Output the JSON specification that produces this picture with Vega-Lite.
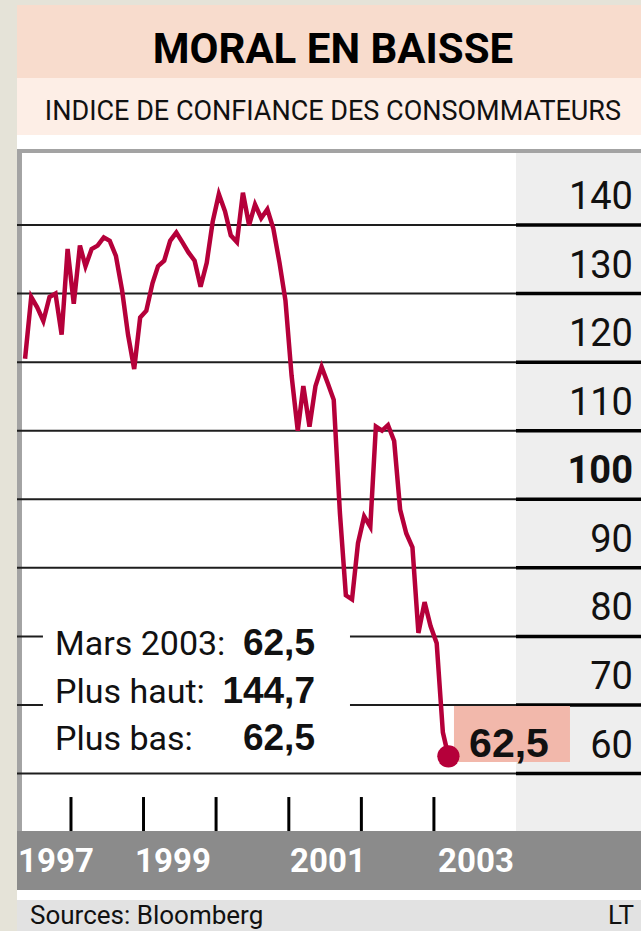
{
  "$schema": "https://vega.github.io/schema/vega-lite/v6.json",
  "width": 624,
  "height": 926,
  "padding": {"left": 17, "top": 5, "right": 0, "bottom": 0},
  "autosize": {"type": "none"},
  "background": "#e5e3d8",
  "config": {
    "view": {"stroke": null, "fill": "#ffffff"},
    "axis": {"disable": true},
    "text": {"font": "Roboto", "color": "#111111"}
  },
  "datasets": {
    "cci": [
      {"month": "1997-05-15", "index": 120.5},
      {"month": "1997-06-15", "index": 129.5},
      {"month": "1997-07-15", "index": 128},
      {"month": "1997-08-15", "index": 126},
      {"month": "1997-09-15", "index": 129.5},
      {"month": "1997-10-15", "index": 130},
      {"month": "1997-11-15", "index": 124},
      {"month": "1997-12-15", "index": 136.5},
      {"month": "1998-01-15", "index": 128.5},
      {"month": "1998-02-15", "index": 137},
      {"month": "1998-03-15", "index": 134},
      {"month": "1998-04-15", "index": 136.5},
      {"month": "1998-05-15", "index": 137},
      {"month": "1998-06-15", "index": 138.2},
      {"month": "1998-07-15", "index": 137.7},
      {"month": "1998-08-15", "index": 135.5},
      {"month": "1998-09-15", "index": 130.5},
      {"month": "1998-10-15", "index": 124},
      {"month": "1998-11-15", "index": 119},
      {"month": "1998-12-15", "index": 126.5},
      {"month": "1999-01-15", "index": 127.5},
      {"month": "1999-02-15", "index": 131.5},
      {"month": "1999-03-15", "index": 134},
      {"month": "1999-04-15", "index": 134.8},
      {"month": "1999-05-15", "index": 137.7},
      {"month": "1999-06-15", "index": 138.9},
      {"month": "1999-07-15", "index": 137.5},
      {"month": "1999-08-15", "index": 136},
      {"month": "1999-09-15", "index": 134.8},
      {"month": "1999-10-15", "index": 131},
      {"month": "1999-11-15", "index": 134.5},
      {"month": "1999-12-15", "index": 140.5},
      {"month": "2000-01-15", "index": 144.5},
      {"month": "2000-02-15", "index": 142},
      {"month": "2000-03-15", "index": 138.5},
      {"month": "2000-04-15", "index": 137.5},
      {"month": "2000-05-15", "index": 144.7},
      {"month": "2000-06-15", "index": 140},
      {"month": "2000-07-15", "index": 143},
      {"month": "2000-08-15", "index": 141},
      {"month": "2000-09-15", "index": 142.3},
      {"month": "2000-10-15", "index": 139.5},
      {"month": "2000-11-15", "index": 134.5},
      {"month": "2000-12-15", "index": 129},
      {"month": "2001-01-15", "index": 118},
      {"month": "2001-02-15", "index": 110},
      {"month": "2001-03-15", "index": 116.5},
      {"month": "2001-04-15", "index": 110.6},
      {"month": "2001-05-15", "index": 116.5},
      {"month": "2001-06-15", "index": 119.3},
      {"month": "2001-07-15", "index": 117},
      {"month": "2001-08-15", "index": 114.5},
      {"month": "2001-09-15", "index": 98},
      {"month": "2001-10-15", "index": 86},
      {"month": "2001-11-15", "index": 85.4},
      {"month": "2001-12-15", "index": 93.6},
      {"month": "2002-01-15", "index": 97.5},
      {"month": "2002-02-15", "index": 96},
      {"month": "2002-03-15", "index": 110.6},
      {"month": "2002-04-15", "index": 110},
      {"month": "2002-05-15", "index": 110.8},
      {"month": "2002-06-15", "index": 108.5},
      {"month": "2002-07-15", "index": 98.5},
      {"month": "2002-08-15", "index": 95},
      {"month": "2002-09-15", "index": 93},
      {"month": "2002-10-15", "index": 80.5},
      {"month": "2002-11-15", "index": 85},
      {"month": "2002-12-15", "index": 81.5},
      {"month": "2003-01-15", "index": 79},
      {"month": "2003-02-15", "index": 66},
      {"month": "2003-03-15", "index": 62.5}
    ],
    "grid": [
      {"v": 60}, {"v": 70}, {"v": 80}, {"v": 90}, {"v": 100},
      {"v": 110}, {"v": 120}, {"v": 130}, {"v": 140}
    ],
    "ticks": [
      {"year": "1998-01-01"}, {"year": "1999-01-01"}, {"year": "2000-01-01"},
      {"year": "2001-01-01"}, {"year": "2002-01-01"}, {"year": "2003-01-01"}
    ]
  },
  "layer": [
    {
      "data": {"values": [{}]},
      "mark": {"type": "rect", "color": "#f8dccd"},
      "encoding": {
        "x": {"datum": {"year": 1997, "month": 4, "date": 4, "hours": 10, "utc": true}, "type": "temporal", "scale": {"domain": [{"year": 1997, "month": 4, "date": 4, "hours": 10, "utc": true}, {"year": 2005, "month": 11, "date": 7, "hours": 21, "utc": true}], "nice": false}},
        "x2": {"datum": {"year": 2005, "month": 11, "date": 7, "hours": 21, "utc": true}},
        "y": {"datum": 172.09, "type": "quantitative", "scale": {"domain": [37.03, 172.09], "nice": false, "zero": false}},
        "y2": {"datum": 161.44}
      }
    },
    {
      "data": {"values": [{}]},
      "mark": {"type": "rect", "color": "#fdeee6"},
      "encoding": {
        "x": {"datum": {"year": 1997, "month": 4, "date": 4, "hours": 10, "utc": true}, "type": "temporal", "scale": {"domain": [{"year": 1997, "month": 4, "date": 4, "hours": 10, "utc": true}, {"year": 2005, "month": 11, "date": 7, "hours": 21, "utc": true}], "nice": false}},
        "x2": {"datum": {"year": 2005, "month": 11, "date": 7, "hours": 21, "utc": true}},
        "y": {"datum": 161.44, "type": "quantitative", "scale": {"domain": [37.03, 172.09], "nice": false, "zero": false}},
        "y2": {"datum": 153.13}
      }
    },
    {
      "data": {"values": [{}]},
      "mark": {"type": "rect", "color": "#a3a3a3"},
      "encoding": {
        "x": {"datum": {"year": 1997, "month": 4, "date": 4, "hours": 10, "utc": true}, "type": "temporal", "scale": {"domain": [{"year": 1997, "month": 4, "date": 4, "hours": 10, "utc": true}, {"year": 2005, "month": 11, "date": 7, "hours": 21, "utc": true}], "nice": false}},
        "x2": {"datum": {"year": 2005, "month": 11, "date": 7, "hours": 21, "utc": true}},
        "y": {"datum": 151.09, "type": "quantitative", "scale": {"domain": [37.03, 172.09], "nice": false, "zero": false}},
        "y2": {"datum": 150.51}
      }
    },
    {
      "data": {"values": [{}]},
      "mark": {"type": "rect", "color": "#a3a3a3"},
      "encoding": {
        "x": {"datum": {"year": 1997, "month": 4, "date": 4, "hours": 10, "utc": true}, "type": "temporal", "scale": {"domain": [{"year": 1997, "month": 4, "date": 4, "hours": 10, "utc": true}, {"year": 2005, "month": 11, "date": 7, "hours": 21, "utc": true}], "nice": false}},
        "x2": {"datum": {"year": 1997, "month": 4, "date": 29, "hours": 12, "utc": true}},
        "y": {"datum": 151.09, "type": "quantitative", "scale": {"domain": [37.03, 172.09], "nice": false, "zero": false}},
        "y2": {"datum": 51.61}
      }
    },
    {
      "data": {"values": [{}]},
      "mark": {"type": "rect", "color": "#eeeeee"},
      "encoding": {
        "x": {"datum": {"year": 2004, "month": 2, "date": 17, "hours": 20, "utc": true}, "type": "temporal", "scale": {"domain": [{"year": 1997, "month": 4, "date": 4, "hours": 10, "utc": true}, {"year": 2005, "month": 11, "date": 7, "hours": 21, "utc": true}], "nice": false}},
        "x2": {"datum": {"year": 2005, "month": 11, "date": 7, "hours": 21, "utc": true}},
        "y": {"datum": 150.51, "type": "quantitative", "scale": {"domain": [37.03, 172.09], "nice": false, "zero": false}},
        "y2": {"datum": 51.61}
      }
    },
    {
      "data": {"values": [{}]},
      "mark": {"type": "rect", "color": "#8b8b8b"},
      "encoding": {
        "x": {"datum": {"year": 1997, "month": 4, "date": 4, "hours": 10, "utc": true}, "type": "temporal", "scale": {"domain": [{"year": 1997, "month": 4, "date": 4, "hours": 10, "utc": true}, {"year": 2005, "month": 11, "date": 7, "hours": 21, "utc": true}], "nice": false}},
        "x2": {"datum": {"year": 2005, "month": 11, "date": 7, "hours": 21, "utc": true}},
        "y": {"datum": 51.61, "type": "quantitative", "scale": {"domain": [37.03, 172.09], "nice": false, "zero": false}},
        "y2": {"datum": 43.01}
      }
    },
    {
      "data": {"values": [{}]},
      "mark": {"type": "rect", "color": "#e2e2e2"},
      "encoding": {
        "x": {"datum": {"year": 1997, "month": 4, "date": 4, "hours": 10, "utc": true}, "type": "temporal", "scale": {"domain": [{"year": 1997, "month": 4, "date": 4, "hours": 10, "utc": true}, {"year": 2005, "month": 11, "date": 7, "hours": 21, "utc": true}], "nice": false}},
        "x2": {"datum": {"year": 2005, "month": 11, "date": 7, "hours": 21, "utc": true}},
        "y": {"datum": 41.55, "type": "quantitative", "scale": {"domain": [37.03, 172.09], "nice": false, "zero": false}},
        "y2": {"datum": 37.03}
      }
    },
    {
      "data": {"name": "grid"},
      "mark": {"type": "rule", "color": "#1e1e1e", "strokeWidth": 2},
      "encoding": {
        "x": {"datum": {"year": 1997, "month": 4, "date": 4, "hours": 10, "utc": true}, "type": "temporal", "scale": {"domain": [{"year": 1997, "month": 4, "date": 4, "hours": 10, "utc": true}, {"year": 2005, "month": 11, "date": 7, "hours": 21, "utc": true}], "nice": false}},
        "x2": {"datum": {"year": 2004, "month": 2, "date": 17, "hours": 20, "utc": true}},
        "y": {"field": "v", "type": "quantitative", "scale": {"domain": [37.03, 172.09], "nice": false, "zero": false}}
      }
    },
    {
      "data": {"name": "grid"},
      "mark": {"type": "rule", "color": "#000000", "strokeWidth": 3.5},
      "encoding": {
        "x": {"datum": {"year": 2004, "month": 2, "date": 17, "hours": 20, "utc": true}, "type": "temporal", "scale": {"domain": [{"year": 1997, "month": 4, "date": 4, "hours": 10, "utc": true}, {"year": 2005, "month": 11, "date": 7, "hours": 21, "utc": true}], "nice": false}},
        "x2": {"datum": {"year": 2005, "month": 11, "date": 7, "hours": 21, "utc": true}},
        "y": {"field": "v", "type": "quantitative", "scale": {"domain": [37.03, 172.09], "nice": false, "zero": false}}
      }
    },
    {
      "data": {"values": [{}]},
      "mark": {"type": "rect", "color": "#ffffff"},
      "encoding": {
        "x": {"datum": {"year": 1997, "month": 8, "date": 13, "utc": true}, "type": "temporal", "scale": {"domain": [{"year": 1997, "month": 4, "date": 4, "hours": 10, "utc": true}, {"year": 2005, "month": 11, "date": 7, "hours": 21, "utc": true}], "nice": false}},
        "x2": {"datum": {"year": 2001, "month": 11, "date": 4, "hours": 17, "utc": true}},
        "y": {"datum": 83.56, "type": "quantitative", "scale": {"domain": [37.03, 172.09], "nice": false, "zero": false}},
        "y2": {"datum": 61.24}
      }
    },
    {
      "data": {"values": [{}]},
      "mark": {"type": "rect", "color": "#f2b8ab"},
      "encoding": {
        "x": {"datum": {"year": 2003, "month": 4, "date": 11, "hours": 22, "utc": true}, "type": "temporal", "scale": {"domain": [{"year": 1997, "month": 4, "date": 4, "hours": 10, "utc": true}, {"year": 2005, "month": 11, "date": 7, "hours": 21, "utc": true}], "nice": false}},
        "x2": {"datum": {"year": 2004, "month": 11, "date": 15, "hours": 14, "utc": true}},
        "y": {"datum": 69.85, "type": "quantitative", "scale": {"domain": [37.03, 172.09], "nice": false, "zero": false}},
        "y2": {"datum": 61.68}
      }
    },
    {
      "data": {"name": "ticks"},
      "mark": {"type": "rule", "color": "#000000", "strokeWidth": 3},
      "encoding": {
        "x": {"field": "year", "type": "temporal", "scale": {"domain": [{"year": 1997, "month": 4, "date": 4, "hours": 10, "utc": true}, {"year": 2005, "month": 11, "date": 7, "hours": 21, "utc": true}], "nice": false}},
        "y": {"datum": 56.57, "type": "quantitative", "scale": {"domain": [37.03, 172.09], "nice": false, "zero": false}},
        "y2": {"datum": 51.61}
      }
    },
    {
      "data": {"name": "cci"},
      "mark": {"type": "line", "color": "#b5003a", "strokeWidth": 4.5, "strokeJoin": "miter"},
      "encoding": {
        "x": {"field": "month", "type": "temporal", "scale": {"domain": [{"year": 1997, "month": 4, "date": 4, "hours": 10, "utc": true}, {"year": 2005, "month": 11, "date": 7, "hours": 21, "utc": true}], "nice": false}},
        "y": {"field": "index", "type": "quantitative", "scale": {"domain": [37.03, 172.09], "nice": false, "zero": false}}
      }
    },
    {
      "data": {"values": [{}]},
      "mark": {"type": "circle", "color": "#b5003a", "opacity": 1, "size": 500},
      "encoding": {
        "x": {"datum": {"year": 2003, "month": 3, "date": 15, "utc": true}, "type": "temporal", "scale": {"domain": [{"year": 1997, "month": 4, "date": 4, "hours": 10, "utc": true}, {"year": 2005, "month": 11, "date": 7, "hours": 21, "utc": true}], "nice": false}},
        "y": {"datum": 62.5, "type": "quantitative", "scale": {"domain": [37.03, 172.09], "nice": false, "zero": false}}
      }
    },
    {
      "data": {"values": [{}]},
      "mark": {"type": "text", "text": "62,5", "font": "Liberation Sans", "fontWeight": "bold", "fontSize": 41, "align": "center", "baseline": "alphabetic"},
      "encoding": {
        "x": {"datum": {"year": 2004, "month": 1, "date": 13, "hours": 17, "utc": true}, "type": "temporal", "scale": {"domain": [{"year": 1997, "month": 4, "date": 4, "hours": 10, "utc": true}, {"year": 2005, "month": 11, "date": 7, "hours": 21, "utc": true}], "nice": false}},
        "y": {"datum": 62.45, "type": "quantitative", "scale": {"domain": [37.03, 172.09], "nice": false, "zero": false}}
      }
    },
    {
      "data": {"name": "grid"},
      "transform": [{"filter": "datum.v != 100"}],
      "mark": {"type": "text", "fontSize": 38, "align": "right", "baseline": "alphabetic", "dy": -16},
      "encoding": {
        "x": {"datum": {"year": 2005, "month": 9, "date": 28, "hours": 12, "utc": true}, "type": "temporal", "scale": {"domain": [{"year": 1997, "month": 4, "date": 4, "hours": 10, "utc": true}, {"year": 2005, "month": 11, "date": 7, "hours": 21, "utc": true}], "nice": false}},
        "y": {"field": "v", "type": "quantitative", "scale": {"domain": [37.03, 172.09], "nice": false, "zero": false}},
        "text": {"field": "v", "type": "quantitative"}
      }
    },
    {
      "data": {"name": "grid"},
      "transform": [{"filter": "datum.v == 100"}],
      "mark": {"type": "text", "fontSize": 38, "fontWeight": "bold", "align": "right", "baseline": "alphabetic", "dy": -16},
      "encoding": {
        "x": {"datum": {"year": 2005, "month": 9, "date": 28, "hours": 12, "utc": true}, "type": "temporal", "scale": {"domain": [{"year": 1997, "month": 4, "date": 4, "hours": 10, "utc": true}, {"year": 2005, "month": 11, "date": 7, "hours": 21, "utc": true}], "nice": false}},
        "y": {"field": "v", "type": "quantitative", "scale": {"domain": [37.03, 172.09], "nice": false, "zero": false}},
        "text": {"field": "v", "type": "quantitative"}
      }
    },
    {
      "data": {"values": [{}]},
      "mark": {"type": "text", "text": "1997", "fontSize": 33, "fontWeight": "bold", "color": "#ffffff", "align": "center", "baseline": "middle"},
      "encoding": {
        "x": {"datum": {"year": 1997, "month": 10, "date": 17, "hours": 12, "utc": true}, "type": "temporal", "scale": {"domain": [{"year": 1997, "month": 4, "date": 4, "hours": 10, "utc": true}, {"year": 2005, "month": 11, "date": 7, "hours": 21, "utc": true}], "nice": false}},
        "y": {"datum": 47.09, "type": "quantitative", "scale": {"domain": [37.03, 172.09], "nice": false, "zero": false}}
      }
    },
    {
      "data": {"values": [{}]},
      "mark": {"type": "text", "text": "1999", "fontSize": 33, "fontWeight": "bold", "color": "#ffffff", "align": "center", "baseline": "middle"},
      "encoding": {
        "x": {"datum": {"year": 1999, "month": 5, "date": 29, "utc": true}, "type": "temporal", "scale": {"domain": [{"year": 1997, "month": 4, "date": 4, "hours": 10, "utc": true}, {"year": 2005, "month": 11, "date": 7, "hours": 21, "utc": true}], "nice": false}},
        "y": {"datum": 47.09, "type": "quantitative", "scale": {"domain": [37.03, 172.09], "nice": false, "zero": false}}
      }
    },
    {
      "data": {"values": [{}]},
      "mark": {"type": "text", "text": "2001", "fontSize": 33, "fontWeight": "bold", "color": "#ffffff", "align": "center", "baseline": "middle"},
      "encoding": {
        "x": {"datum": {"year": 2001, "month": 7, "date": 17, "utc": true}, "type": "temporal", "scale": {"domain": [{"year": 1997, "month": 4, "date": 4, "hours": 10, "utc": true}, {"year": 2005, "month": 11, "date": 7, "hours": 21, "utc": true}], "nice": false}},
        "y": {"datum": 47.09, "type": "quantitative", "scale": {"domain": [37.03, 172.09], "nice": false, "zero": false}}
      }
    },
    {
      "data": {"values": [{}]},
      "mark": {"type": "text", "text": "2003", "fontSize": 33, "fontWeight": "bold", "color": "#ffffff", "align": "center", "baseline": "middle"},
      "encoding": {
        "x": {"datum": {"year": 2003, "month": 7, "date": 31, "hours": 14, "utc": true}, "type": "temporal", "scale": {"domain": [{"year": 1997, "month": 4, "date": 4, "hours": 10, "utc": true}, {"year": 2005, "month": 11, "date": 7, "hours": 21, "utc": true}], "nice": false}},
        "y": {"datum": 47.09, "type": "quantitative", "scale": {"domain": [37.03, 172.09], "nice": false, "zero": false}}
      }
    },
    {
      "data": {"values": [{}]},
      "mark": {"type": "text", "text": "MORAL EN BAISSE", "fontSize": 42, "fontWeight": "bold", "align": "center", "baseline": "alphabetic", "color": "#000000"},
      "encoding": {
        "x": {"datum": {"year": 2001, "month": 8, "date": 11, "utc": true}, "type": "temporal", "scale": {"domain": [{"year": 1997, "month": 4, "date": 4, "hours": 10, "utc": true}, {"year": 2005, "month": 11, "date": 7, "hours": 21, "utc": true}], "nice": false}},
        "y": {"datum": 163.63, "type": "quantitative", "scale": {"domain": [37.03, 172.09], "nice": false, "zero": false}}
      }
    },
    {
      "data": {"values": [{}]},
      "mark": {"type": "text", "text": "INDICE DE CONFIANCE DES CONSOMMATEURS", "fontSize": 27, "align": "center", "baseline": "alphabetic"},
      "encoding": {
        "x": {"datum": {"year": 2001, "month": 8, "date": 11, "utc": true}, "type": "temporal", "scale": {"domain": [{"year": 1997, "month": 4, "date": 4, "hours": 10, "utc": true}, {"year": 2005, "month": 11, "date": 7, "hours": 21, "utc": true}], "nice": false}},
        "y": {"datum": 155.32, "type": "quantitative", "scale": {"domain": [37.03, 172.09], "nice": false, "zero": false}}
      }
    },
    {
      "data": {"values": [{}]},
      "mark": {"type": "text", "text": "Mars 2003:", "fontSize": 34, "align": "left", "baseline": "alphabetic"},
      "encoding": {
        "x": {"datum": {"year": 1997, "month": 10, "date": 12, "hours": 12, "utc": true}, "type": "temporal", "scale": {"domain": [{"year": 1997, "month": 4, "date": 4, "hours": 10, "utc": true}, {"year": 2005, "month": 11, "date": 7, "hours": 21, "utc": true}], "nice": false}},
        "y": {"datum": 77.28, "type": "quantitative", "scale": {"domain": [37.03, 172.09], "nice": false, "zero": false}}
      }
    },
    {
      "data": {"values": [{}]},
      "mark": {"type": "text", "text": "Plus haut:", "fontSize": 34, "align": "left", "baseline": "alphabetic"},
      "encoding": {
        "x": {"datum": {"year": 1997, "month": 10, "date": 12, "hours": 12, "utc": true}, "type": "temporal", "scale": {"domain": [{"year": 1997, "month": 4, "date": 4, "hours": 10, "utc": true}, {"year": 2005, "month": 11, "date": 7, "hours": 21, "utc": true}], "nice": false}},
        "y": {"datum": 70.24, "type": "quantitative", "scale": {"domain": [37.03, 172.09], "nice": false, "zero": false}}
      }
    },
    {
      "data": {"values": [{}]},
      "mark": {"type": "text", "text": "Plus bas:", "fontSize": 34, "align": "left", "baseline": "alphabetic"},
      "encoding": {
        "x": {"datum": {"year": 1997, "month": 10, "date": 12, "hours": 12, "utc": true}, "type": "temporal", "scale": {"domain": [{"year": 1997, "month": 4, "date": 4, "hours": 10, "utc": true}, {"year": 2005, "month": 11, "date": 7, "hours": 21, "utc": true}], "nice": false}},
        "y": {"datum": 63.43, "type": "quantitative", "scale": {"domain": [37.03, 172.09], "nice": false, "zero": false}}
      }
    },
    {
      "data": {"values": [{}]},
      "mark": {"type": "text", "text": "62,5", "font": "Liberation Sans", "fontWeight": "bold", "fontSize": 37, "align": "right", "baseline": "alphabetic"},
      "encoding": {
        "x": {"datum": {"year": 2001, "month": 5, "date": 12, "hours": 14, "utc": true}, "type": "temporal", "scale": {"domain": [{"year": 1997, "month": 4, "date": 4, "hours": 10, "utc": true}, {"year": 2005, "month": 11, "date": 7, "hours": 21, "utc": true}], "nice": false}},
        "y": {"datum": 77.28, "type": "quantitative", "scale": {"domain": [37.03, 172.09], "nice": false, "zero": false}}
      }
    },
    {
      "data": {"values": [{}]},
      "mark": {"type": "text", "text": "144,7", "font": "Liberation Sans", "fontWeight": "bold", "fontSize": 37, "align": "right", "baseline": "alphabetic"},
      "encoding": {
        "x": {"datum": {"year": 2001, "month": 5, "date": 12, "hours": 14, "utc": true}, "type": "temporal", "scale": {"domain": [{"year": 1997, "month": 4, "date": 4, "hours": 10, "utc": true}, {"year": 2005, "month": 11, "date": 7, "hours": 21, "utc": true}], "nice": false}},
        "y": {"datum": 70.24, "type": "quantitative", "scale": {"domain": [37.03, 172.09], "nice": false, "zero": false}}
      }
    },
    {
      "data": {"values": [{}]},
      "mark": {"type": "text", "text": "62,5", "font": "Liberation Sans", "fontWeight": "bold", "fontSize": 37, "align": "right", "baseline": "alphabetic"},
      "encoding": {
        "x": {"datum": {"year": 2001, "month": 5, "date": 12, "hours": 14, "utc": true}, "type": "temporal", "scale": {"domain": [{"year": 1997, "month": 4, "date": 4, "hours": 10, "utc": true}, {"year": 2005, "month": 11, "date": 7, "hours": 21, "utc": true}], "nice": false}},
        "y": {"datum": 63.43, "type": "quantitative", "scale": {"domain": [37.03, 172.09], "nice": false, "zero": false}}
      }
    },
    {
      "data": {"values": [{}]},
      "mark": {"type": "text", "text": "Sources: Bloomberg", "fontSize": 26, "align": "left", "baseline": "alphabetic"},
      "encoding": {
        "x": {"datum": {"year": 1997, "month": 6, "date": 8, "hours": 17, "utc": true}, "type": "temporal", "scale": {"domain": [{"year": 1997, "month": 4, "date": 4, "hours": 10, "utc": true}, {"year": 2005, "month": 11, "date": 7, "hours": 21, "utc": true}], "nice": false}},
        "y": {"datum": 38.1, "type": "quantitative", "scale": {"domain": [37.03, 172.09], "nice": false, "zero": false}}
      }
    },
    {
      "data": {"values": [{}]},
      "mark": {"type": "text", "text": "LT", "fontSize": 26, "align": "right", "baseline": "alphabetic"},
      "encoding": {
        "x": {"datum": {"year": 2005, "month": 10, "date": 3, "hours": 12, "utc": true}, "type": "temporal", "scale": {"domain": [{"year": 1997, "month": 4, "date": 4, "hours": 10, "utc": true}, {"year": 2005, "month": 11, "date": 7, "hours": 21, "utc": true}], "nice": false}},
        "y": {"datum": 38.1, "type": "quantitative", "scale": {"domain": [37.03, 172.09], "nice": false, "zero": false}}
      }
    }
  ]
}
